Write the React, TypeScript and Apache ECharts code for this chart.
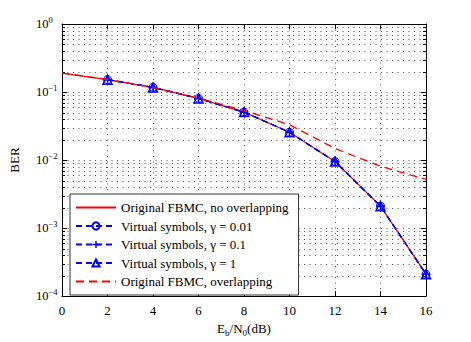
import React, { useEffect, useRef } from "react";
import * as echarts from "echarts";

const snr = [0, 2, 4, 6, 8, 10, 12, 14, 16];
const snrVirtual = [2, 4, 6, 8, 10, 12, 14, 16];
const berNoOverlap = [0.19, 0.152, 0.117, 0.0805, 0.0507, 0.0256, 0.0095, 0.0021, 0.00021];
const berGamma001 = [0.152, 0.117, 0.0805, 0.0507, 0.0256, 0.0095, 0.0021, 0.00021];
const berGamma01 = [0.152, 0.117, 0.0805, 0.0507, 0.0256, 0.0095, 0.0021, 0.00021];
const berGamma1 = [0.152, 0.117, 0.0805, 0.0507, 0.0256, 0.0095, 0.0021, 0.00021];
const berOverlap = [0.19, 0.152, 0.117, 0.081, 0.0535, 0.033, 0.0148, 0.0081, 0.0052];
const xTicks = [0, 2, 4, 6, 8, 10, 12, 14, 16];
const yDecades = [-4, -3, -2, -1, 0];
const seriesNames = [
  "Original FBMC, no overlapping",
  "Virtual symbols, γ = 0.01",
  "Virtual symbols, γ = 0.1",
  "Virtual symbols, γ = 1",
  "Original FBMC, overlapping",
];

const FONT = "Liberation Serif";
const RED = "#ff0000";
const BLUE = "#0000ff";
const DOT = [1, 4.5];

// minor log positions (2..9 x 10^d) for axis decoration
const minorVals: number[] = [];
yDecades.slice(0, 4).forEach((d) => {
  for (let k = 2; k <= 9; k++) minorVals.push(k * Math.pow(10, d));
});

const pair = (xs: number[], ys: number[]) => xs.map((x, i) => [x, ys[i]]);

export default function App() {
  const ref = useRef<HTMLDivElement>(null);
  useEffect(() => {
    if (!ref.current) return;
    const chart = echarts.init(ref.current, null, { renderer: "svg" });
    const grid = { left: 61, right: 45, top: 24, bottom: 39 };
    const tickStyle = { show: true, inside: true, length: 5, lineStyle: { color: "#000", width: 1 } };
    const gridLine = { show: true, lineStyle: { color: "#555", type: DOT as any, width: 1 } };
    const option: any = {
      animation: false,
      backgroundColor: "#fff",
      grid,
      legend: {
        orient: "vertical",
        left: 70,
        top: 194,
        data: seriesNames.map((n, i) =>
          i === 0 || i === 4 ? { name: n, itemStyle: { opacity: 0 } } : { name: n }
        ),
        backgroundColor: "#fff",
        borderColor: "#333",
        borderWidth: 1,
        borderRadius: 0,
        padding: [7, 10, 7, 5],
        itemGap: 5.5,
        itemWidth: 40,
        itemHeight: 9,
        textStyle: { fontFamily: FONT, fontSize: 13, lineHeight: 13, color: "#000" },
      },
      xAxis: [
        {
          type: "value",
          min: 0,
          max: 16,
          interval: 2,
          position: "bottom",
          axisLine: { show: true, onZero: false, lineStyle: { color: "#000", width: 1 } },
          axisTick: tickStyle,
          splitLine: gridLine,
          axisLabel: {
            fontFamily: FONT,
            fontSize: 13,
            color: "#000",
            margin: 8,
            customValues: xTicks,
          },
          name: "{n|E}{s|b}{n|/N}{s|0}{n|(dB)}",
          nameLocation: "middle",
          nameGap: 20,
          nameTextStyle: {
            fontFamily: FONT,
            fontSize: 13,
            color: "#000",
            rich: {
              n: { fontFamily: FONT, fontSize: 13, color: "#000" },
              s: { fontFamily: FONT, fontSize: 9, color: "#000", padding: [8, 0, 0, 0] },
            },
          },
        },
        {
          type: "value",
          min: 0,
          max: 16,
          interval: 2,
          position: "top",
          axisLine: { show: true, onZero: false, lineStyle: { color: "#000", width: 1 } },
          axisTick: tickStyle,
          splitLine: { show: false },
          axisLabel: { show: false },
        },
      ],
      yAxis: [
        {
          type: "log",
          logBase: 10,
          min: 1e-4,
          max: 1,
          position: "left",
          axisLine: { show: true, onZero: false, lineStyle: { color: "#000", width: 1 } },
          axisTick: tickStyle,
          splitLine: gridLine,
          axisLabel: {
            align: "left",
            margin: 26,
            formatter: (v: number) => {
              const e = Math.round(Math.log10(v));
              return "{b|10}{e|" + (e < 0 ? "\u2212" + -e : String(e)) + "}";
            },
            rich: {
              b: { fontFamily: FONT, fontSize: 12.5, color: "#000" },
              e: { fontFamily: FONT, fontSize: 8.5, color: "#000", padding: [0, 0, 9, 0] },
            },
          },
          name: "BER",
          nameLocation: "middle",
          nameRotate: 90,
          nameGap: 41,
          nameMoveOverlap: false,
          nameTextStyle: { fontFamily: FONT, fontSize: 13, color: "#000" },
        },
        {
          type: "log",
          logBase: 10,
          min: 1e-4,
          max: 1,
          position: "right",
          axisLine: { show: true, onZero: false, lineStyle: { color: "#000", width: 1 } },
          axisTick: tickStyle,
          splitLine: { show: false },
          axisLabel: { show: false },
        },
      ],
      series: [
        {
          type: "custom",
          name: "minor",
          xAxisIndex: 0,
          yAxisIndex: 0,
          silent: true,
          z: 1,
          data: minorVals.map((v) => [0, v]),
          encode: { x: 0, y: 1 },
          renderItem: (params: any, api: any) => {
            const cs = params.coordSys;
            const y = Math.round(api.coord([0, api.value(1)])[1]) + 0.5;
            return {
              type: "group",
              children: [
                {
                  type: "line",
                  shape: { x1: cs.x, y1: y, x2: cs.x + cs.width, y2: y },
                  style: { stroke: "#555", lineWidth: 1, lineDash: DOT },
                },
                {
                  type: "line",
                  shape: { x1: cs.x, y1: y, x2: cs.x + 3, y2: y },
                  style: { stroke: "#000", lineWidth: 1 },
                },
                {
                  type: "line",
                  shape: { x1: cs.x + cs.width - 3, y1: y, x2: cs.x + cs.width, y2: y },
                  style: { stroke: "#000", lineWidth: 1 },
                },
              ],
            };
          },
        },
        {
          type: "line",
          name: seriesNames[0],
          data: pair(snr, berNoOverlap),
          showSymbol: false,
          lineStyle: { color: RED, width: 1.3 },
          itemStyle: { color: RED },
          z: 3,
        },
        {
          type: "line",
          name: seriesNames[1],
          data: pair(snrVirtual, berGamma001),
          symbol: "circle",
          symbolSize: 8,
          lineStyle: { color: BLUE, width: 1.2, type: [6, 4] },
          itemStyle: { color: "transparent", borderColor: BLUE, borderWidth: 1 },
          z: 4,
        },
        {
          type: "line",
          name: seriesNames[2],
          data: pair(snrVirtual, berGamma01),
          symbol: "path://M4,0h2v4h4v2h-4v4h-2v-4h-4v-2h4z",
          symbolSize: 8,
          lineStyle: { color: BLUE, width: 1.2, type: [6, 4] },
          itemStyle: { color: BLUE },
          z: 4,
        },
        {
          type: "line",
          name: seriesNames[3],
          data: pair(snrVirtual, berGamma1),
          symbol: "triangle",
          symbolSize: 9,
          lineStyle: { color: BLUE, width: 1.2, type: [6, 4] },
          itemStyle: { color: "transparent", borderColor: BLUE, borderWidth: 1.5 },
          z: 4,
        },
        {
          type: "line",
          name: seriesNames[4],
          data: pair(snr, berOverlap),
          showSymbol: false,
          lineStyle: { color: RED, width: 1.3, type: [8, 5] },
          itemStyle: { color: RED },
          z: 5,
        },
      ],
    };
    chart.setOption(option);
    return () => chart.dispose();
  }, []);
  return <div ref={ref} style={{ width: 471, height: 342, position: "absolute", left: 0, top: 0 }} />;
}
